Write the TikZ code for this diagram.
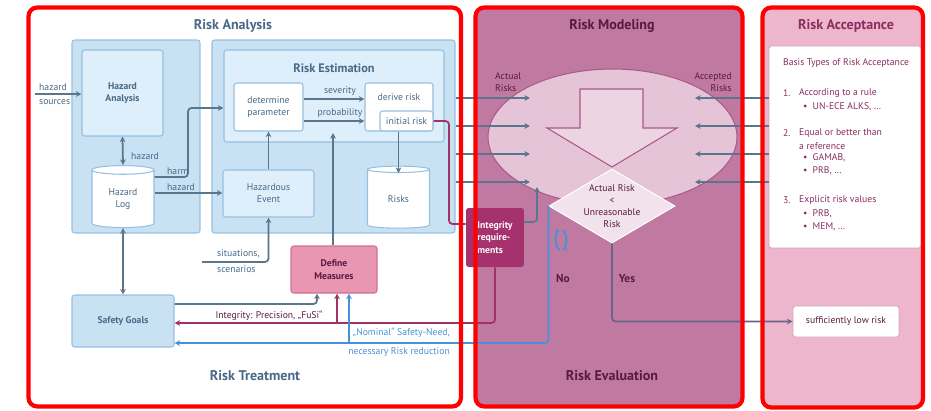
\documentclass[tikz,border=0pt]{standalone}
\usepackage{fontspec}
\setmainfont{PT Sans}
\usetikzlibrary{arrows.meta,shapes.geometric,positioning}

\definecolor{framered}{RGB}{255,0,0}
\definecolor{bluefill}{RGB}{200,225,243}
\definecolor{bluelight}{RGB}{222,238,250}
\definecolor{bluedge}{RGB}{150,192,225}
\definecolor{txtblue}{RGB}{72,105,135}
\definecolor{arrowc}{RGB}{90,118,140}
\definecolor{intc}{RGB}{160,50,100}
\definecolor{nomc}{RGB}{70,145,215}
\definecolor{measfill}{RGB}{232,150,178}
\definecolor{measedge}{RGB}{210,110,145}
\definecolor{mauve}{RGB}{192,122,162}
\definecolor{ellfill}{RGB}{230,196,216}
\definecolor{ellc}{RGB}{170,90,135}
\definecolor{arrfill}{RGB}{236,212,227}
\definecolor{diafill}{RGB}{242,226,236}
\definecolor{plum}{RGB}{90,25,65}
\definecolor{rosefill}{RGB}{238,182,204}
\definecolor{intfill}{RGB}{165,50,110}
\definecolor{accc}{RGB}{138,45,95}
\definecolor{yesc}{RGB}{105,100,135}

\begin{document}
\begin{tikzpicture}[x=0.02cm, y=-0.02cm,
    every node/.style={font=\fontsize{5.5}{6.8}\selectfont, text=txtblue},
    heading/.style={font=\fontsize{8}{9}\selectfont\bfseries},
    panel/.style={draw=bluedge, fill=bluefill, line width=0.6pt, rounded corners=1.5pt, inner sep=0pt, align=center},
    subpanel/.style={panel, fill=bluelight},
    whitebox/.style={panel, fill=white},
    store/.style={cylinder, shape border rotate=90, aspect=0.3, draw=bluedge, fill=white, line width=0.6pt,
        minimum width=1.24cm, minimum height=1.24cm, inner sep=0pt, align=center},
    flow/.style={draw=arrowc, line width=1pt, rounded corners=2pt, -{Stealth[length=3.2pt, width=3.2pt]}},
    twoway/.style={flow, {Stealth[length=3.2pt, width=3.2pt]}-{Stealth[length=3.2pt, width=3.2pt]}},
    intline/.style={flow, draw=intc},
    nomline/.style={flow, draw=nomc},
    accwhite/.style={draw=rosefill!70!gray, fill=white, line width=0.5pt, rounded corners=1pt, inner sep=0pt},
    acctext/.style={anchor=west, text=accc},
    frame/.style={draw=framered, line width=2.4pt, rounded corners=5pt},
  ]
    \useasboundingbox (0,0) rectangle (931,410);

    % panel fills
    \fill[mauve, rounded corners=3pt] (476,8) rectangle (742,406);
    \fill[rosefill, rounded corners=3pt] (763,8) rectangle (922,407);

    % risk analysis
    \node[heading] at (233,26) {Risk Analysis};
    \node[panel, minimum width=2.56cm, minimum height=3.86cm] (hazpanel) at (136,136.5) {};
    \node[panel, minimum width=4.86cm, minimum height=3.86cm] (estpanel) at (333.5,136.5) {};
    \node[subpanel, minimum width=1.62cm, minimum height=1.72cm, font=\fontsize{5.5}{6.8}\selectfont\bfseries] (hazan) at (122.5,93) {Hazard\\Analysis};
    \node[subpanel, minimum width=4.40cm, minimum height=1.84cm] (estbox) at (334,96) {};
    \node[heading, font=\fontsize{7}{8}\selectfont\bfseries] at (334,68) {Risk Estimation};
    \node[whitebox, minimum width=1.38cm, minimum height=0.96cm] (detpar) at (268.5,107) {determine\\parameter};
    \node[whitebox, minimum width=1.36cm, minimum height=0.96cm] (derrisk) at (399,107) {};
    \node at (399,97) {derive risk};
    \node[whitebox, minimum width=1.06cm, minimum height=0.40cm] (initrisk) at (406.5,121) {initial risk};
    \node[store] (hazlog) at (123,199) {Hazard\\Log};
    \node[store] (risks) at (398.5,199) {Risks};
    \node[subpanel, minimum width=1.82cm, minimum height=0.94cm] (hazev) at (268.5,193.5) {Hazardous\\Event};
    \node[draw=measedge, fill=measfill, line width=0.6pt, rounded corners=1.5pt, minimum width=1.72cm, minimum height=0.94cm,
        align=center, text=plum, font=\fontsize{5.5}{7.5}\selectfont\bfseries] (measures) at (334,269.5) {Define\\Measures};
    \node[panel, minimum width=2.04cm, minimum height=1.04cm, font=\fontsize{5.5}{6.8}\selectfont\bfseries] (goals) at (123,321) {Safety Goals};
    \node[heading] at (255,376) {Risk Treatment};

    % risk modeling
    \node[heading, text=plum] at (612,26) {Risk Modeling};
    \node[ellipse, draw=ellc, fill=ellfill, line width=0.6pt, minimum width=4.98cm, minimum height=2.72cm, inner sep=0pt] (model) at (612.5,137) {};
    \draw[draw=ellc, fill=arrfill, line width=0.6pt] (580,89) -- (643,89) -- (643,128) -- (677,128) -- (612,167) -- (547,128) -- (580,128) -- cycle;
    \node[diamond, draw=white, fill=diafill, line width=0.6pt, minimum width=2.52cm, minimum height=1.48cm, aspect=1.7, inner sep=0pt] (check) at (612,206) {};
    \node[align=center, text=plum] at (check) {Actual Risk\\<\\Unreasonable\\Risk};
    \node[anchor=north west, align=left, text=plum] at (489,66) {Actual\\Risks};
    \node[anchor=north east, align=right, text=plum] at (738,66) {Accepted\\Risks};
    \node[fill=intfill, rounded corners=1.5pt, minimum width=1.16cm, minimum height=1.18cm, align=left,
        text=white!92!pink, font=\fontsize{5.5}{7}\selectfont\bfseries] (integ) at (495,237.5) {Integrity\\require-\\ments};
    \node[text=plum, font=\fontsize{6.5}{8}\selectfont\bfseries] (no) at (563,279) {No};
    \node[text=plum, font=\fontsize{6.5}{8}\selectfont\bfseries] (yes) at (627,279) {Yes};
    \node[heading, text=plum] at (612,376) {Risk Evaluation};

    % risk acceptance
    \node[heading, text=accc] at (846,26) {Risk Acceptance};
    \node[accwhite, minimum width=3.04cm, minimum height=4.04cm] (accbox) at (845,147) {};
    \node[acctext] at (777,63) {Basis Types of Risk Acceptance};
    \node[acctext] at (777,93) {1.};
    \node[acctext] at (793,93) {According to a rule};
    \node[acctext] at (797,107) {•\ \ UN-ECE ALKS, …};
    \node[acctext] at (777,133) {2.};
    \node[acctext] at (793,133) {Equal or better than};
    \node[acctext] at (793,146) {a reference};
    \node[acctext] at (797,158) {•\ \ GAMAB,};
    \node[acctext] at (797,171) {•\ \ PRB, …};
    \node[acctext] at (777,200) {3.};
    \node[acctext] at (793,200) {Explicit risk values};
    \node[acctext] at (797,214) {•\ \ PRB,};
    \node[acctext] at (797,227) {•\ \ MEM, …};
    \node[accwhite, minimum width=2.12cm, minimum height=0.62cm, text=plum] (lowrisk) at (846,321.5) {sufficiently low risk};

    % hazard side
    \coordinate (src) at (35,94);
    \node[anchor=west, align=left] at (33,94) {hazard\\[1pt]sources};
    \draw[flow] (src) -- (hazan.west |- src);
    \draw[twoway] (hazan.south) -- (hazlog.north);
    \node[anchor=west] at (125,156) {hazard};
    \draw[flow] (hazlog.east |- 0,177) -- (188,177) -- (188,108) -- (estbox.west |- 0,108);
    \node[anchor=west] at (161,171) {harm};
    \draw[flow] (hazlog.east |- 0,193) -- (hazev.west |- 0,193);
    \node[anchor=west] at (161,187) {hazard};
    \draw[twoway] (hazlog.south) -- (goals.north);

    % estimation
    \draw[flow] (detpar.east |- 0,99) -- (derrisk.west |- 0,99);
    \node at (340,91) {severity};
    \draw[flow] (detpar.east |- 0,121) -- (derrisk.west |- 0,121);
    \node at (340,113) {probability};
    \coordinate (rtop) at (398.5,173);
    \draw[flow] (initrisk.south -| rtop) -- (rtop);
    \draw[flow] (hazev.north) -- (detpar.south);
    \coordinate (sit) at (202,262);
    \draw[flow] (sit) -| (hazev.south);
    \node[anchor=west, align=left] at (211,261) {situations,\\[2pt]scenarios};
    \coordinate (mtop) at (333,133);
    \draw[flow] (measures.north -| mtop) -- (mtop);

    % actual and accepted risks
    \foreach \i/\y in {1/98,2/126,3/154,4/182} {
        \coordinate (al\i) at (530,\y);
        \coordinate (ar\i) at (695,\y);
        \draw[flow] (estpanel.east |- al\i) -- (al\i);
        \draw[flow] (accbox.west |- ar\i) -- (ar\i);
    }

    % treatment
    \coordinate (bend1) at (449,224);
    \draw[intline, -] (initrisk.east) -| (bend1) -- (integ.west |- bend1);
    \coordinate (intup) at (537,187);
    \draw[flow] (integ.east |- 0,222) -| (intup);
    \coordinate (goalj) at (317,304);
    \draw[flow] (goals.east |- goalj) -| (measures.south -| goalj);
    \coordinate (intj) at (337,323);
    \draw[intline] (integ.south) |- (goals.east |- intj);
    \draw[intline] (intj) -- (measures.south -| intj);
    \node[text=plum] at (269,316) {Integrity: Precision, „FuSi“};
    \coordinate (nomj) at (349,343);
    \draw[nomline] (check.west) |- (goals.east |- nomj);
    \draw[nomline] (nomj) -- (measures.south -| nomj);
    \node[anchor=east, text=nomc] at (456,333) {„Nominal“ Safety-Need,};
    \node[anchor=east, text=nomc] at (456,352) {necessary Risk reduction};
    \draw[flow, draw=yesc] (check.south) |- (lowrisk.west);

    % loop sign
    \coordinate (loopc) at (561,240);
    \draw[nomc, line width=1.1pt, -{Stealth[length=2.5pt, width=3pt]}] (loopc) ++(105:5.5 and 10) arc[start angle=105, end angle=255, x radius=5.5, y radius=10];
    \draw[nomc, line width=1.1pt, -{Stealth[length=2.5pt, width=3pt]}] (loopc) ++(285:5.5 and 10) arc[start angle=285, end angle=435, x radius=5.5, y radius=10];

    % frames
    \draw[frame] (28.5,7.5) rectangle (461,406.5);
    \draw[frame] (475.5,7.5) rectangle (742.5,406.5);
    \draw[frame] (762.5,7.5) rectangle (923,407.5);
\end{tikzpicture}
\end{document}
